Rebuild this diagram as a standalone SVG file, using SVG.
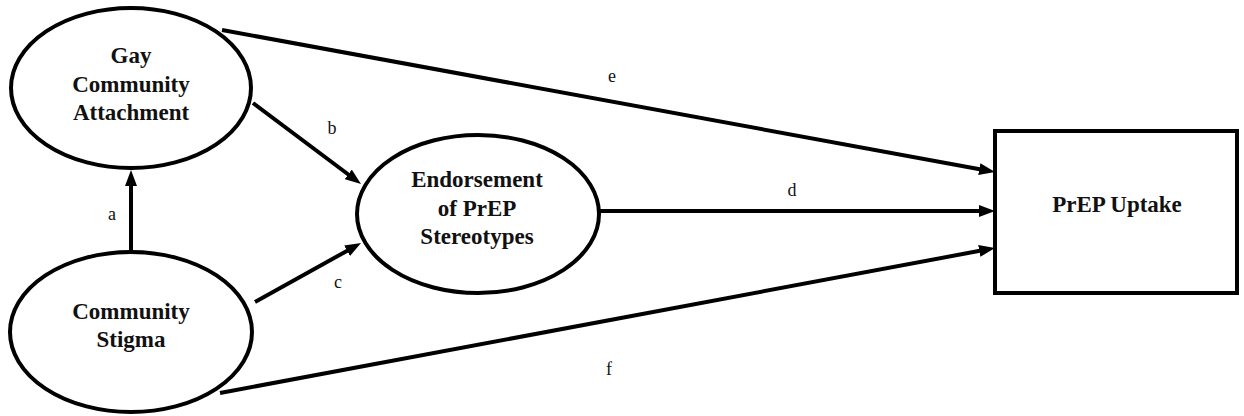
<svg xmlns="http://www.w3.org/2000/svg" width="1244" height="416" viewBox="0 0 1244 416">
<style>
.node{fill:#fff;stroke:#000;stroke-width:4}
.t{font-family:"Liberation Serif","Times New Roman",serif;font-weight:bold;font-size:23px;text-anchor:middle;fill:#111}
.lab{font-family:"Liberation Serif","Times New Roman",serif;font-size:18px;text-anchor:middle;fill:#111}
.edge{stroke:#000;stroke-width:4;fill:none;marker-end:url(#arr)}
</style>
<defs>
<marker id="arr" markerUnits="userSpaceOnUse" markerWidth="16" markerHeight="12" refX="6" refY="6" orient="auto">
<path d="M0,0 L16,6 L0,12 z" fill="#000"/>
</marker>
</defs>
<rect width="1244" height="416" fill="#fff"/>
<g id="connectors">
<line class="edge" x1="222" y1="30" x2="985.2" y2="170.2"/>
<line class="edge" x1="599" y1="211" x2="985" y2="211"/>
<line class="edge" x1="220" y1="393" x2="985.2" y2="249.8"/>
<line class="edge" x1="131" y1="252" x2="131" y2="180"/>
<line class="edge" x1="253" y1="103" x2="353" y2="178"/>
<line class="edge" x1="255" y1="302" x2="352.3" y2="247.9"/>
<text class="lab" x="112" y="220">a</text>
<text class="lab" x="332" y="134">b</text>
<text class="lab" x="338" y="288">c</text>
<text class="lab" x="792" y="196">d</text>
<text class="lab" x="612" y="82">e</text>
<text class="lab" x="609" y="375">f</text>
</g>
<g id="gca">
<ellipse class="node" cx="131" cy="88" rx="120" ry="80"/>
<text class="t" x="131" y="63">Gay</text>
<text class="t" x="131" y="92">Community</text>
<text class="t" x="131" y="120">Attachment</text>
</g>
<g id="cs">
<ellipse class="node" cx="131" cy="332" rx="121" ry="80"/>
<text class="t" x="131" y="319">Community</text>
<text class="t" x="131" y="347">Stigma</text>
</g>
<g id="eps">
<ellipse class="node" cx="478" cy="214" rx="121" ry="79"/>
<text class="t" x="477" y="187">Endorsement</text>
<text class="t" x="477" y="216">of PrEP</text>
<text class="t" x="477" y="244">Stereotypes</text>
</g>
<g id="uptake">
<rect class="node" x="995" y="131" width="242" height="162"/>
<text class="t" x="1117" y="212">PrEP Uptake</text>
</g>
</svg>
